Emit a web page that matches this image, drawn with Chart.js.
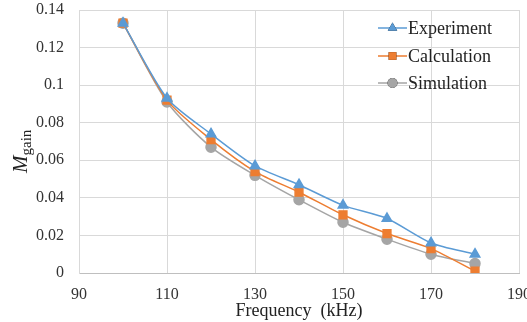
<!DOCTYPE html>
<html>
<head>
<meta charset="utf-8">
<script src="https://cdn.jsdelivr.net/npm/chart.js@4"></script>
<style>
  html, body { margin: 0; padding: 0; background: #fff; }
  #wrap { width: 527px; height: 322px; }
</style>
</head>
<body>
<div id="wrap"><canvas id="myChart" width="527" height="322"></canvas></div>
<script>
// data
var frequencies = [100, 110, 120, 130, 140, 150, 160, 170, 180];
var experiment  = [0.133, 0.093, 0.074, 0.057, 0.047, 0.036, 0.029, 0.016, 0.010];
var calculation = [0.133, 0.092, 0.071, 0.054, 0.043, 0.031, 0.021, 0.013, 0.001];
var simulation  = [0.133, 0.091, 0.067, 0.052, 0.039, 0.027, 0.018, 0.010, 0.005];
var seriesNames = ['Experiment', 'Calculation', 'Simulation'];
var xTicks = [90, 110, 130, 150, 170, 190];
var yTicks = [0, 0.02, 0.04, 0.06, 0.08, 0.1, 0.12, 0.14];

function toPoints(values) {
    return frequencies.map(function(f, i) { return { x: f, y: values[i] }; });
}

var serif = '"Liberation Serif", "Times New Roman", serif';

// legend drawn inside the plot, top right
var legendInside = {
    id: 'legendInside',
    afterDraw: function(chart) {
        var ctx = chart.ctx;
        var x0 = 378, x1 = 407;
        var rows = [28, 56, 83];
        chart.data.datasets.forEach(function(ds, i) {
            var y = rows[i];
            ctx.save();
            ctx.strokeStyle = ds.borderColor;
            ctx.lineWidth = 1.5;
            ctx.beginPath();
            ctx.moveTo(x0, y);
            ctx.lineTo(x1, y);
            ctx.stroke();
            Chart.helpers.drawPoint(ctx, {
                pointStyle: ds.pointStyle,
                radius: ds.pointRadius,
                rotation: 0,
                borderWidth: 0
            }, (x0 + x1) / 2, y);
            ctx.fillStyle = ds.backgroundColor;
            ctx.fill();
            ctx.fillStyle = '#222';
            ctx.font = '18px ' + serif;
            ctx.textBaseline = 'middle';
            ctx.textAlign = 'left';
            ctx.fillText(ds.label, x1 + 1, y + 1);
            ctx.restore();
        });
    }
};

// y axis title: italic M with subscript "gain", rotated
var yTitle = {
    id: 'yTitle',
    afterDraw: function(chart) {
        var ctx = chart.ctx;
        ctx.save();
        ctx.translate(27, 173);
        ctx.rotate(-Math.PI / 2);
        ctx.fillStyle = '#222';
        ctx.textBaseline = 'alphabetic';
        ctx.textAlign = 'left';
        ctx.font = 'italic 21px ' + serif;
        ctx.fillText('M', 0, 0);
        var w = ctx.measureText('M').width;
        ctx.font = '15px ' + serif;
        ctx.fillText('gain', w, 4);
        ctx.restore();
    }
};

var ctx = document.getElementById('myChart').getContext('2d');
var myChart = new Chart(ctx, {
    type: 'line',
    data: {
        datasets: [{
            label: seriesNames[0],
            data: toPoints(experiment),
            borderColor: '#5B9BD5',
            backgroundColor: '#5B9BD5',
            pointStyle: 'triangle',
            pointRadius: 5.5,
            borderWidth: 1.5,
            tension: 0.25
        }, {
            label: seriesNames[1],
            data: toPoints(calculation),
            borderColor: '#ED7D31',
            backgroundColor: '#ED7D31',
            pointStyle: 'rect',
            pointRadius: 5.5,
            borderWidth: 1.5,
            tension: 0.25
        }, {
            label: seriesNames[2],
            data: toPoints(simulation),
            borderColor: '#A5A5A5',
            backgroundColor: '#A5A5A5',
            pointStyle: 'circle',
            pointRadius: 5,
            borderWidth: 1.5,
            tension: 0.25
        }]
    },
    options: {
        responsive: false,
        animation: false,
        layout: { padding: { left: 0, right: 8, top: 10, bottom: 0 } },
        plugins: {
            legend: { display: false },
            tooltip: { enabled: false }
        },
        scales: {
            x: {
                type: 'linear',
                min: 90,
                max: 190,
                afterBuildTicks: function(scale) {
                    scale.ticks = xTicks.map(function(v) { return { value: v }; });
                },
                afterFit: function(scale) {
                    scale.paddingLeft = 0;
                    scale.paddingRight = 0;
                    scale.height = 49;
                },
                grid: { color: '#D9D9D9', drawTicks: false },
                border: { color: '#BFBFBF' },
                ticks: {
                    padding: 12,
                    color: '#333',
                    font: { family: serif, size: 16 }
                },
                title: {
                    display: true,
                    text: 'Frequency  (kHz)',
                    color: '#222',
                    padding: { top: 0, bottom: 0 },
                    font: { family: serif, size: 18 }
                }
            },
            y: {
                min: 0,
                max: 0.14,
                afterBuildTicks: function(scale) {
                    scale.ticks = yTicks.map(function(v) { return { value: v }; });
                },
                afterFit: function(scale) {
                    scale.paddingTop = 0;
                    scale.paddingBottom = 0;
                    scale.width = 79;
                },
                grid: { color: '#D9D9D9', drawTicks: false },
                border: { color: '#D9D9D9' },
                ticks: {
                    padding: 15,
                    color: '#333',
                    font: { family: serif, size: 16 },
                    callback: function(v) { return String(Number(v.toFixed(2))); }
                }
            }
        }
    },
    plugins: [legendInside, yTitle]
});
</script>
</body>
</html>
